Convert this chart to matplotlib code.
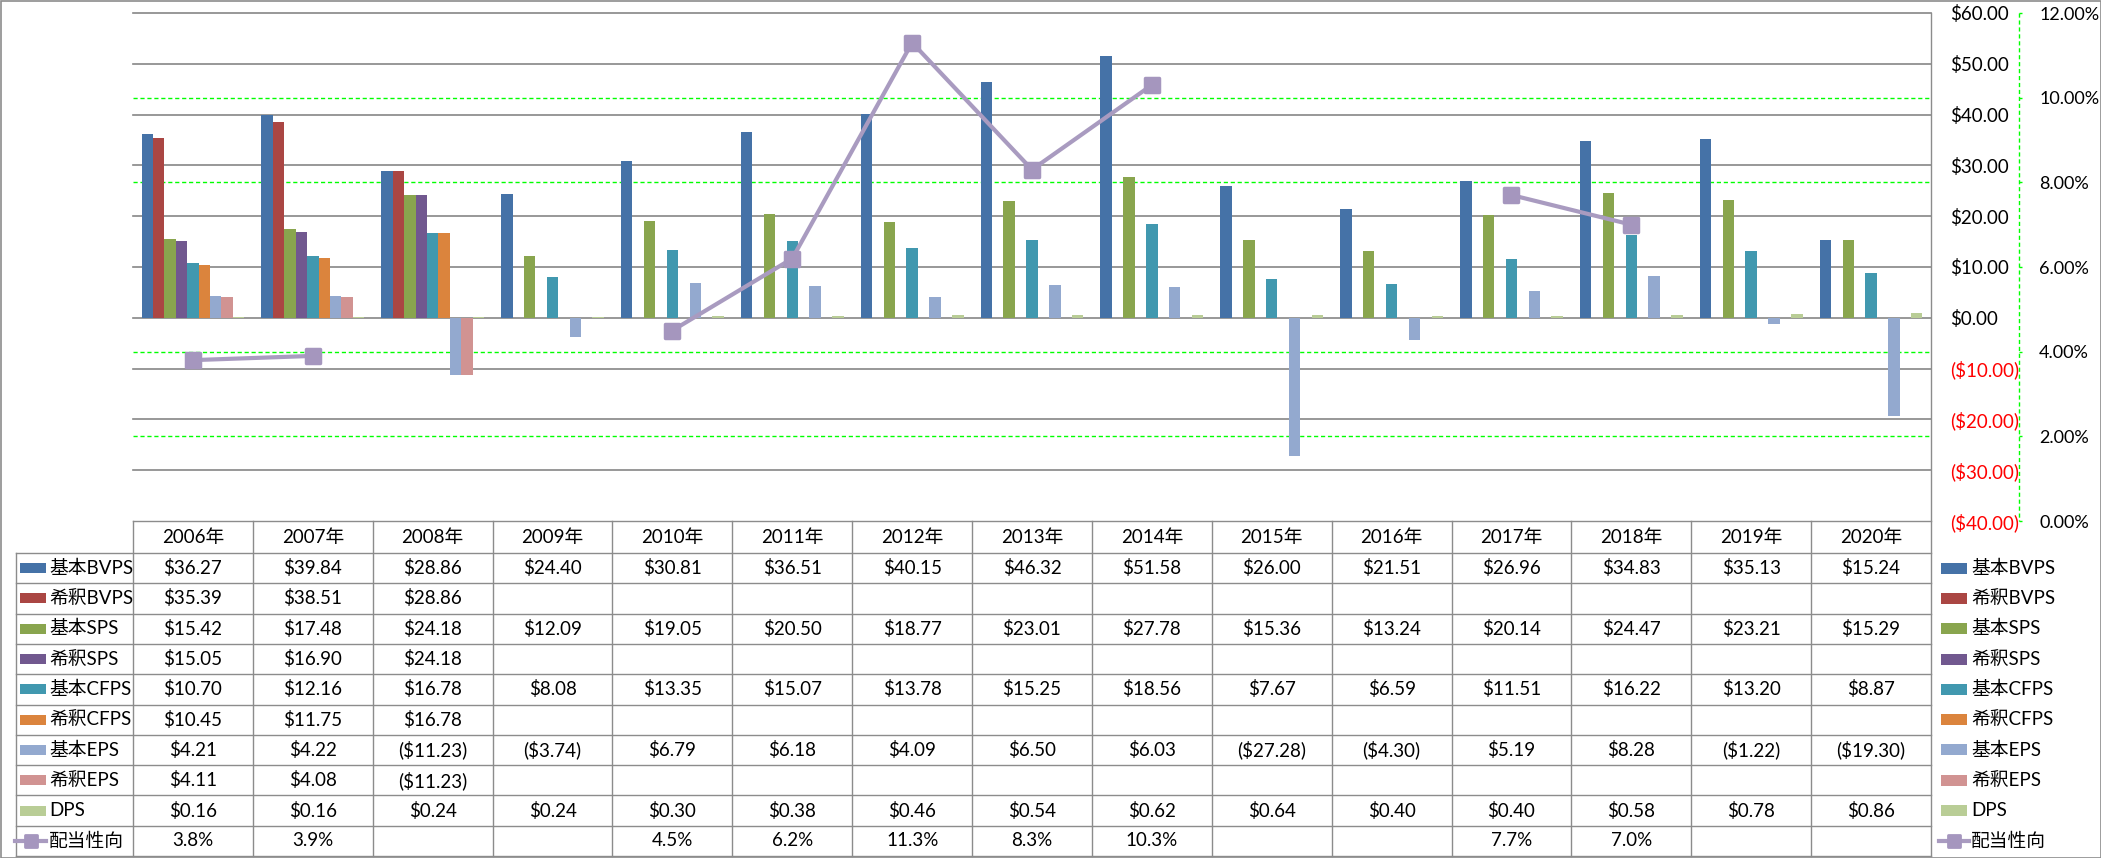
#!/usr/bin/env python3
# -*- coding: utf-8 -*-
"""Per-share figures 2006-2020: clustered bars + payout ratio line, Excel-style data table below."""
import numpy as np
import matplotlib
matplotlib.use("Agg")
import matplotlib.pyplot as plt
from matplotlib.markers import MarkerStyle
from matplotlib.patches import Rectangle

plt.rcParams["font.family"] = ["Lato", "Noto Sans CJK JP", "DejaVu Sans"]

nan = np.nan
years = ["2006年", "2007年", "2008年", "2009年", "2010年", "2011年", "2012年", "2013年",
         "2014年", "2015年", "2016年", "2017年", "2018年", "2019年", "2020年"]
series_names = ["基本BVPS", "希釈BVPS", "基本SPS", "希釈SPS", "基本CFPS", "希釈CFPS",
                "基本EPS", "希釈EPS", "DPS"]
basic_bvps = [36.27, 39.84, 28.86, 24.40, 30.81, 36.51, 40.15, 46.32, 51.58, 26.00, 21.51, 26.96, 34.83, 35.13, 15.24]
diluted_bvps = [35.39, 38.51, 28.86] + [nan] * 12
basic_sps = [15.42, 17.48, 24.18, 12.09, 19.05, 20.50, 18.77, 23.01, 27.78, 15.36, 13.24, 20.14, 24.47, 23.21, 15.29]
diluted_sps = [15.05, 16.90, 24.18] + [nan] * 12
basic_cfps = [10.70, 12.16, 16.78, 8.08, 13.35, 15.07, 13.78, 15.25, 18.56, 7.67, 6.59, 11.51, 16.22, 13.20, 8.87]
diluted_cfps = [10.45, 11.75, 16.78] + [nan] * 12
basic_eps = [4.21, 4.22, -11.23, -3.74, 6.79, 6.18, 4.09, 6.50, 6.03, -27.28, -4.30, 5.19, 8.28, -1.22, -19.30]
diluted_eps = [4.11, 4.08, -11.23] + [nan] * 12
dps = [0.16, 0.16, 0.24, 0.24, 0.30, 0.38, 0.46, 0.54, 0.62, 0.64, 0.40, 0.40, 0.58, 0.78, 0.86]
payout_name = "配当性向"
payout = [3.8, 3.9, nan, nan, 4.5, 6.2, 11.3, 8.3, 10.3, nan, nan, 7.7, 7.0, nan, nan]

series = [basic_bvps, diluted_bvps, basic_sps, diluted_sps, basic_cfps, diluted_cfps,
          basic_eps, diluted_eps, dps]
colors = ["#4572A7", "#AA4643", "#89A54E", "#71588F", "#4198AF", "#DB843D",
          "#93A9CF", "#D19392", "#B9CD96"]
PAY_LINE = "#A99BC0"
PAY_MARK = "#A596BE"
GRID = "#868686"
TLINE = "#8C8C8C"
GREEN = "#00FF00"

W, H = 2101, 858
PL, PR, PT, PB = 133, 1931, 13, 521   # plot area in pixels
AX2_X = 2019                          # secondary axis line
FS = 13.5


def money(v):
    if np.isnan(v):
        return ""
    return f"(${-v:.2f})" if v < 0 else f"${v:.2f}"


fig = plt.figure(figsize=(W / 100, H / 100), dpi=100)
ax = fig.add_axes([PL / W, 1 - PB / H, (PR - PL) / W, (PB - PT) / H])

x = np.arange(len(years))
bw = 1 / 10.5
n = len(series)
for i, (vals, c) in enumerate(zip(series, colors)):
    ax.bar(x + (i - (n - 1) / 2) * bw, vals, width=bw, color=c, linewidth=0, zorder=3)
ax.set_xlim(-0.5, len(years) - 0.5)
ax.set_ylim(-40, 60)

# secondary-axis gridlines (green dashed) where they don't sit on a gray one
pct_ticks = [0, 2, 4, 6, 8, 10, 12]
for p in [2, 4, 8, 10]:
    ax.axhline(-40 + p / 12 * 100, color=GREEN, lw=1.0, ls=(0, (3, 2)), zorder=1)
for v in range(-30, 61, 10):
    ax.axhline(v, color=GRID, lw=1.2, zorder=2, clip_on=False)

ax2 = ax.twinx()
ax2.set_ylim(0, 12)

yt = list(range(-40, 61, 10))
ax.set_yticks(yt)
ax.set_yticklabels([money(float(v)) for v in yt])
ax.yaxis.set_ticks_position("right")
ax.tick_params(axis="y", which="both", left=False, right=False, labelleft=False,
               labelright=True, length=0, pad=13.5, labelsize=FS)
for lab, v in zip(ax.get_yticklabels(), yt):
    lab.set_color("#FF0000" if v < 0 else "black")
ax.set_xticks([])
for s in ax.spines.values():
    s.set_visible(False)

mk = MarkerStyle("s", joinstyle="round")
ax2.plot(x, payout, color=PAY_LINE, lw=3, marker=mk, ms=10.5, mew=2.5,
         mec=PAY_MARK, mfc=PAY_MARK, zorder=5)
ax2.set_yticks(pct_ticks)
ax2.set_yticklabels([f"{p:.2f}%" for p in pct_ticks])
for s in ax2.spines.values():
    s.set_visible(False)
ax2.spines["right"].set_position(("outward", (AX2_X - PR) * 0.72))
ax2.tick_params(axis="y", length=2.5, width=1, color=GREEN, pad=12, labelsize=13)
ax2.set_xticks([])

# data table + legend in pixel coordinates
tab = fig.add_axes([0, 0, 1, 1])
tab.set_xlim(0, W)
tab.set_ylim(H, 0)
tab.axis("off")

tab.plot([AX2_X, AX2_X], [PT, PB], color=GREEN, lw=1.0, ls=(0, (3, 2)))

col_w = (PR - PL) / len(years)
row_top, row_h = 553, (856 - 553) / 10
tab.plot([PL, PR], [PB, PB], color=TLINE, lw=1.0)
for k in range(11):
    yy = row_top + k * row_h
    tab.plot([16, PR], [yy, yy], color=TLINE, lw=1.0)
tab.plot([16, 16], [row_top, 856], color=TLINE, lw=1.0)
for j in range(len(years) + 1):
    xx = PL + j * col_w
    tab.plot([xx, xx], [PB if j < len(years) else PT, 856], color=TLINE, lw=1.0)
tab.add_patch(Rectangle((0.5, 0.5), W - 1, H - 1, fill=False, ec=TLINE, lw=1.2))

for j, yr in enumerate(years):
    tab.text(PL + (j + 0.5) * col_w, (PB + row_top) / 2, yr, ha="center", va="center", fontsize=FS)

for r, (name, vals, c) in enumerate(zip(series_names, series, colors)):
    yc = row_top + (r + 0.5) * row_h
    tab.add_patch(Rectangle((20, yc - 5), 26, 10, color=c, lw=0))
    tab.text(49, yc, name, ha="left", va="center", fontsize=FS)
    tab.add_patch(Rectangle((1941, yc - 5.5), 26, 11, color=c, lw=0))
    tab.text(1971, yc, name, ha="left", va="center", fontsize=FS)
    for j, v in enumerate(vals):
        tab.text(PL + (j + 0.5) * col_w, yc, money(v), ha="center", va="center", fontsize=FS)

yc = row_top + 9.5 * row_h
for x0, x1, tx in [(15, 46, 49), (1939, 1969, 1971)]:
    tab.plot([x0, x1], [yc, yc], color=PAY_LINE, lw=3)
    tab.plot([(x0 + x1) / 2], [yc], marker=mk, ms=8, mew=2, mec=PAY_MARK, mfc=PAY_MARK)
    tab.text(tx, yc, payout_name, ha="left", va="center", fontsize=FS)
for j, v in enumerate(payout):
    if not np.isnan(v):
        tab.text(PL + (j + 0.5) * col_w, yc, f"{v:.1f}%", ha="center", va="center", fontsize=FS)

fig.savefig("out.png", dpi=100)
